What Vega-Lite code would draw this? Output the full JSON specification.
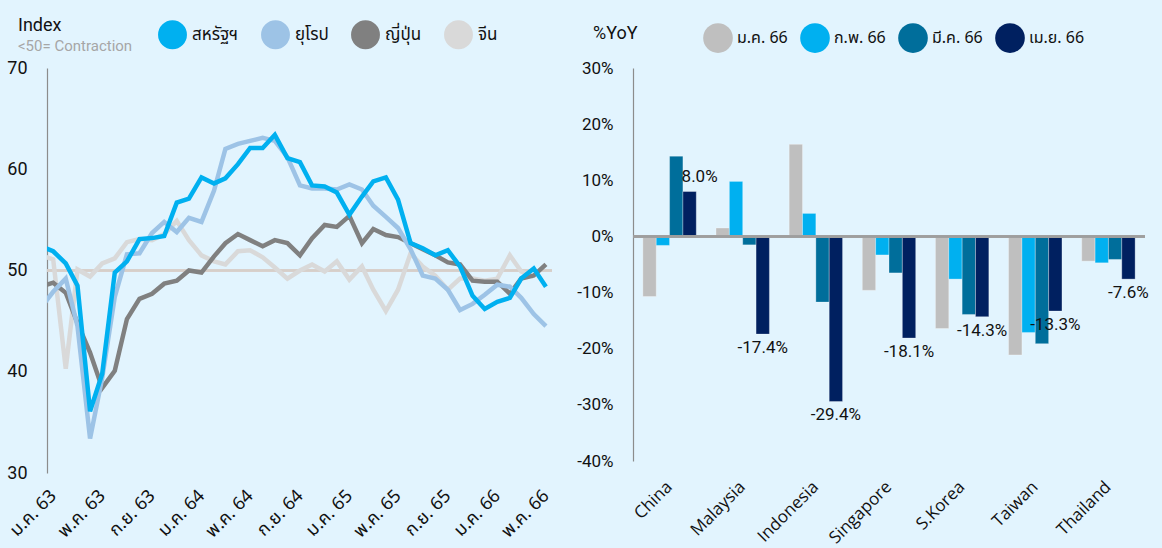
{
  "$schema": "https://vega.github.io/schema/vega-lite/v6.json",
  "autosize": {"type": "none"},
  "padding": {"left": 47, "top": 68, "right": 1115, "bottom": 480},
  "background": "#E2F4FE",
  "bounds": "flush",
  "spacing": 81,
  "config": {
    "font": "Roboto",
    "view": {"stroke": null},
    "locale": {"number": {"decimal": ".", "thousands": ",", "grouping": [3], "currency": ["", ""], "minus": "-"}},
    "axis": {"labelColor": "#111111", "labelFont": "Roboto"},
    "legend": {"labelFont": "Noto Sans Thai", "labelColor": "#111111"},
    "title": {"font": "Roboto"}
  },
  "resolve": {"scale": {"color": "independent"}, "legend": {"color": "independent"}},
  "hconcat": [
    {
      "width": 505,
      "height": 405,
      "title": {"text": "Index", "subtitle": "<50= Contraction", "anchor": "start", "frame": "group", "dx": -29, "offset": -34, "fontSize": 18, "fontWeight": "normal", "color": "#111111", "subtitleFontSize": 15, "subtitleColor": "#A6A6A6", "subtitlePadding": 4, "subtitleFont": "Roboto"},
      "data": {"values": [
        {"date": "2019-12-01", "สหรัฐฯ": 52.4, "ยุโรป": 46.3, "ญี่ปุ่น": 48.4, "จีน": 51.5},
        {"date": "2020-01-01", "สหรัฐฯ": 51.9, "ยุโรป": 47.9, "ญี่ปุ่น": 48.8, "จีน": 51.1},
        {"date": "2020-02-01", "สหรัฐฯ": 50.7, "ยุโรป": 49.2, "ญี่ปุ่น": 47.8, "จีน": 40.3},
        {"date": "2020-03-01", "สหรัฐฯ": 48.5, "ยุโรป": 44.5, "ญี่ปุ่น": 44.8, "จีน": 50.1},
        {"date": "2020-04-01", "สหรัฐฯ": 36.1, "ยุโรป": 33.4, "ญี่ปุ่น": 41.9, "จีน": 49.4},
        {"date": "2020-05-01", "สหรัฐฯ": 39.8, "ยุโรป": 39.4, "ญี่ปุ่น": 38.4, "จีน": 50.7},
        {"date": "2020-06-01", "สหรัฐฯ": 49.8, "ยุโรป": 47.4, "ญี่ปุ่น": 40.1, "จีน": 51.2},
        {"date": "2020-07-01", "สหรัฐฯ": 50.9, "ยุโรป": 51.6, "ญี่ปุ่น": 45.2, "จีน": 52.8},
        {"date": "2020-08-01", "สหรัฐฯ": 53.1, "ยุโรป": 51.7, "ญี่ปุ่น": 47.2, "จีน": 53.1},
        {"date": "2020-09-01", "สหรัฐฯ": 53.2, "ยุโรป": 53.7, "ญี่ปุ่น": 47.7, "จีน": 53.0},
        {"date": "2020-10-01", "สหรัฐฯ": 53.4, "ยุโรป": 54.8, "ญี่ปุ่น": 48.7, "จีน": 53.6},
        {"date": "2020-11-01", "สหรัฐฯ": 56.7, "ยุโรป": 53.8, "ญี่ปุ่น": 49.0, "จีน": 54.9},
        {"date": "2020-12-01", "สหรัฐฯ": 57.1, "ยุโรป": 55.2, "ญี่ปุ่น": 50.0, "จีน": 53.0},
        {"date": "2021-01-01", "สหรัฐฯ": 59.2, "ยุโรป": 54.8, "ญี่ปุ่น": 49.8, "จีน": 51.5},
        {"date": "2021-02-01", "สหรัฐฯ": 58.6, "ยุโรป": 57.9, "ญี่ปุ่น": 51.4, "จีน": 50.9},
        {"date": "2021-03-01", "สหรัฐฯ": 59.1, "ยุโรป": 62.0, "ญี่ปุ่น": 52.7, "จีน": 50.6},
        {"date": "2021-04-01", "สหรัฐฯ": 60.5, "ยุโรป": 62.5, "ญี่ปุ่น": 53.6, "จีน": 51.9},
        {"date": "2021-05-01", "สหรัฐฯ": 62.1, "ยุโรป": 62.8, "ญี่ปุ่น": 53.0, "จีน": 52.0},
        {"date": "2021-06-01", "สหรัฐฯ": 62.1, "ยุโรป": 63.1, "ญี่ปุ่น": 52.4, "จีน": 51.3},
        {"date": "2021-07-01", "สหรัฐฯ": 63.4, "ยุโรป": 62.8, "ญี่ปุ่น": 53.0, "จีน": 50.3},
        {"date": "2021-08-01", "สหรัฐฯ": 61.1, "ยุโรป": 61.2, "ญี่ปุ่น": 52.7, "จีน": 49.2},
        {"date": "2021-09-01", "สหรัฐฯ": 60.7, "ยุโรป": 58.4, "ญี่ปุ่น": 51.5, "จีน": 50.0},
        {"date": "2021-10-01", "สหรัฐฯ": 58.4, "ยุโรป": 58.1, "ญี่ปุ่น": 53.2, "จีน": 50.6},
        {"date": "2021-11-01", "สหรัฐฯ": 58.3, "ยุโรป": 58.1, "ญี่ปุ่น": 54.5, "จีน": 49.9},
        {"date": "2021-12-01", "สหรัฐฯ": 57.7, "ยุโรป": 58.0, "ญี่ปุ่น": 54.3, "จีน": 50.9},
        {"date": "2022-01-01", "สหรัฐฯ": 55.5, "ยุโรป": 58.5, "ญี่ปุ่น": 55.4, "จีน": 49.1},
        {"date": "2022-02-01", "สหรัฐฯ": 57.3, "ยุโรป": 58.0, "ญี่ปุ่น": 52.7, "จีน": 50.4},
        {"date": "2022-03-01", "สหรัฐฯ": 58.8, "ยุโรป": 56.4, "ญี่ปุ่น": 54.1, "จีน": 48.1},
        {"date": "2022-04-01", "สหรัฐฯ": 59.2, "ยุโรป": 55.3, "ญี่ปุ่น": 53.5, "จีน": 46.0},
        {"date": "2022-05-01", "สหรัฐฯ": 57.0, "ยุโรป": 54.2, "ญี่ปุ่น": 53.3, "จีน": 48.1},
        {"date": "2022-06-01", "สหรัฐฯ": 52.7, "ยุโรป": 52.1, "ญี่ปุ่น": 52.7, "จีน": 51.7},
        {"date": "2022-07-01", "สหรัฐฯ": 52.2, "ยุโรป": 49.5, "ญี่ปุ่น": 52.1, "จีน": 50.4},
        {"date": "2022-08-01", "สหรัฐฯ": 51.5, "ยุโรป": 49.2, "ญี่ปุ่น": 51.5, "จีน": 49.5},
        {"date": "2022-09-01", "สหรัฐฯ": 52.0, "ยุโรป": 48.1, "ญี่ปุ่น": 50.8, "จีน": 48.1},
        {"date": "2022-10-01", "สหรัฐฯ": 50.4, "ยุโรป": 46.1, "ญี่ปุ่น": 50.6, "จีน": 49.2},
        {"date": "2022-11-01", "สหรัฐฯ": 47.5, "ยุโรป": 46.7, "ญี่ปุ่น": 49.0, "จีน": 49.2},
        {"date": "2022-12-01", "สหรัฐฯ": 46.2, "ยุโรป": 47.6, "ญี่ปุ่น": 48.9, "จีน": 49.0},
        {"date": "2023-01-01", "สหรัฐฯ": 46.9, "ยุโรป": 48.6, "ญี่ปุ่น": 48.9, "จีน": 49.2},
        {"date": "2023-02-01", "สหรัฐฯ": 47.3, "ยุโรป": 48.4, "ญี่ปุ่น": 47.7, "จีน": 51.5},
        {"date": "2023-03-01", "สหรัฐฯ": 49.2, "ยุโรป": 47.3, "ญี่ปุ่น": 49.2, "จีน": 49.9},
        {"date": "2023-04-01", "สหรัฐฯ": 50.2, "ยุโรป": 45.7, "ญี่ปุ่น": 49.5, "จีน": 49.4},
        {"date": "2023-05-01", "สหรัฐฯ": 48.4, "ยุโรป": 44.5, "ญี่ปุ่น": 50.6, "จีน": null}
      ]},
      "layer": [
        {
          "mark": {"type": "rule", "color": "#D6CFC9", "strokeWidth": 1.5},
          "encoding": {
            "y": {"datum": 50, "type": "quantitative", "scale": {"domain": [30, 70]},
              "axis": {"title": null, "values": [30, 40, 50, 60, 70], "grid": false, "ticks": false, "tickSize": 0, "domainColor": "#8C8C8C", "domainWidth": 1.2, "labelFontSize": 18, "labelPadding": 20}}
          }
        },
        {
          "transform": [{"fold": ["จีน", "ญี่ปุ่น", "ยุโรป", "สหรัฐฯ"], "as": ["region", "value"]}],
          "mark": {"type": "line", "strokeWidth": 4.5, "clip": true},
          "encoding": {
            "x": {
              "field": "date", "type": "temporal",
              "scale": {"type": "utc", "domain": [{"year": 2019, "month": 12, "date": 16, "hours": 18, "utc": true}, {"year": 2023, "month": 5, "date": 16, "utc": true}]},
              "axis": {
                "title": null, "grid": false, "domain": false, "ticks": false, "tickSize": 0,
                "values": [
                  {"year": 2020, "month": 1, "date": 1, "utc": true}, {"year": 2020, "month": 5, "date": 1, "utc": true}, {"year": 2020, "month": 9, "date": 1, "utc": true},
                  {"year": 2021, "month": 1, "date": 1, "utc": true}, {"year": 2021, "month": 5, "date": 1, "utc": true}, {"year": 2021, "month": 9, "date": 1, "utc": true},
                  {"year": 2022, "month": 1, "date": 1, "utc": true}, {"year": 2022, "month": 5, "date": 1, "utc": true}, {"year": 2022, "month": 9, "date": 1, "utc": true},
                  {"year": 2023, "month": 1, "date": 1, "utc": true}, {"year": 2023, "month": 5, "date": 1, "utc": true}
                ],
                "labelExpr": "['ม.ค.','ก.พ.','มี.ค.','เม.ย.','พ.ค.','มิ.ย.','ก.ค.','ส.ค.','ก.ย.','ต.ค.','พ.ย.','ธ.ค.'][utcmonth(datum.value)] + ' ' + (utcyear(datum.value) - 1957)",
                "labelFont": "Noto Sans Thai",
                "labelAngle": -45, "labelAlign": "right", "labelBaseline": "middle", "labelFontSize": 18, "labelPadding": 20, "labelFlush": false, "labelOverlap": false
              }
            },
            "y": {"field": "value", "type": "quantitative", "scale": {"domain": [30, 70]},
              "axis": {"title": null, "values": [30, 40, 50, 60, 70], "grid": false, "ticks": false, "tickSize": 0, "domainColor": "#8C8C8C", "domainWidth": 1.2, "labelFontSize": 18, "labelPadding": 20}},
            "color": {
              "field": "region", "type": "nominal",
              "scale": {"domain": ["สหรัฐฯ", "ยุโรป", "ญี่ปุ่น", "จีน"], "range": ["#00B0F0", "#9DC3E6", "#808080", "#D9D9D9"]},
              "legend": {"orient": "none", "legendX": 111, "legendY": -48, "direction": "horizontal", "title": null, "symbolType": "circle", "symbolSize": 210, "symbolStrokeWidth": 14.4, "symbolOpacity": 1, "labelFontSize": 17, "columnPadding": 0, "labelOffset": 5, "padding": 0}
            }
          }
        }
      ]
    },
    {
      "width": 512,
      "height": 393,
      "title": {"text": "%YoY", "anchor": "start", "frame": "group", "dx": -40, "offset": -20, "fontSize": 18, "fontWeight": "normal", "color": "#111111"},
      "data": {"values": [
        {"country": "China", "month": "ม.ค. 66", "value": -0.107},
        {"country": "China", "month": "ก.พ. 66", "value": -0.016},
        {"country": "China", "month": "มี.ค. 66", "value": 0.143},
        {"country": "China", "month": "เม.ย. 66", "value": 0.080},
        {"country": "Malaysia", "month": "ม.ค. 66", "value": 0.015},
        {"country": "Malaysia", "month": "ก.พ. 66", "value": 0.098},
        {"country": "Malaysia", "month": "มี.ค. 66", "value": -0.015},
        {"country": "Malaysia", "month": "เม.ย. 66", "value": -0.174},
        {"country": "Indonesia", "month": "ม.ค. 66", "value": 0.164},
        {"country": "Indonesia", "month": "ก.พ. 66", "value": 0.041},
        {"country": "Indonesia", "month": "มี.ค. 66", "value": -0.117},
        {"country": "Indonesia", "month": "เม.ย. 66", "value": -0.294},
        {"country": "Singapore", "month": "ม.ค. 66", "value": -0.096},
        {"country": "Singapore", "month": "ก.พ. 66", "value": -0.033},
        {"country": "Singapore", "month": "มี.ค. 66", "value": -0.065},
        {"country": "Singapore", "month": "เม.ย. 66", "value": -0.181},
        {"country": "S.Korea", "month": "ม.ค. 66", "value": -0.164},
        {"country": "S.Korea", "month": "ก.พ. 66", "value": -0.076},
        {"country": "S.Korea", "month": "มี.ค. 66", "value": -0.139},
        {"country": "S.Korea", "month": "เม.ย. 66", "value": -0.143},
        {"country": "Taiwan", "month": "ม.ค. 66", "value": -0.211},
        {"country": "Taiwan", "month": "ก.พ. 66", "value": -0.171},
        {"country": "Taiwan", "month": "มี.ค. 66", "value": -0.191},
        {"country": "Taiwan", "month": "เม.ย. 66", "value": -0.133},
        {"country": "Thailand", "month": "ม.ค. 66", "value": -0.044},
        {"country": "Thailand", "month": "ก.พ. 66", "value": -0.047},
        {"country": "Thailand", "month": "มี.ค. 66", "value": -0.041},
        {"country": "Thailand", "month": "เม.ย. 66", "value": -0.076}
      ]},
      "encoding": {
        "x": {"field": "country", "type": "nominal", "sort": null,
          "scale": {"paddingInner": 0.27, "paddingOuter": 0.135},
          "axis": {"title": null, "labelFont": "Open Sans", "labelAngle": -45, "labelAlign": "right", "labelBaseline": "middle", "labelFontSize": 17, "labelPadding": 23, "domain": false, "ticks": false, "tickSize": 0}},
        "xOffset": {"field": "month", "type": "nominal", "scale": {"domain": ["ม.ค. 66", "ก.พ. 66", "มี.ค. 66", "เม.ย. 66"], "paddingInner": 0}},
        "y": {"field": "value", "type": "quantitative", "scale": {"domain": [-0.4, 0.3]},
          "axis": {"title": null, "values": [-0.4, -0.3, -0.2, -0.1, 0, 0.1, 0.2, 0.3], "format": ".0%", "grid": false, "ticks": false, "tickSize": 0, "domainColor": "#8C8C8C", "domainWidth": 1.2, "labelFontSize": 17, "labelPadding": 20}}
      },
      "layer": [
        {
          "mark": {"type": "bar", "stroke": "#FFFFFF", "strokeWidth": 0.5, "strokeOpacity": 0.6},
          "encoding": {
            "color": {"field": "month", "type": "nominal",
              "scale": {"domain": ["ม.ค. 66", "ก.พ. 66", "มี.ค. 66", "เม.ย. 66"], "range": ["#BFBFBF", "#00B0F0", "#006E9B", "#002060"]},
              "legend": {"orient": "none", "legendX": 70, "legendY": -45, "direction": "horizontal", "title": null, "symbolType": "circle", "symbolSize": 880, "symbolStrokeWidth": 0, "symbolOpacity": 1, "labelFontSize": 16, "columnPadding": 12, "labelOffset": 4, "padding": 0}}
          }
        },
        {
          "mark": {"type": "rule", "color": "#9E9E9E", "strokeWidth": 1.5},
          "encoding": {"x": null, "xOffset": null, "y": {"datum": 0, "type": "quantitative"}}
        },
        {
          "transform": [{"filter": "datum.month === 'เม.ย. 66' && datum.value < 0"}],
          "mark": {"type": "text", "baseline": "top", "dy": 6, "fontSize": 17, "color": "#111111"},
          "encoding": {"text": {"field": "value", "type": "quantitative", "format": ".1%"}}
        },
        {
          "transform": [{"filter": "datum.month === 'เม.ย. 66' && datum.value >= 0"}],
          "mark": {"type": "text", "baseline": "bottom", "dy": -6, "dx": 10, "fontSize": 17, "color": "#111111"},
          "encoding": {"text": {"field": "value", "type": "quantitative", "format": ".1%"}}
        }
      ]
    }
  ]
}
